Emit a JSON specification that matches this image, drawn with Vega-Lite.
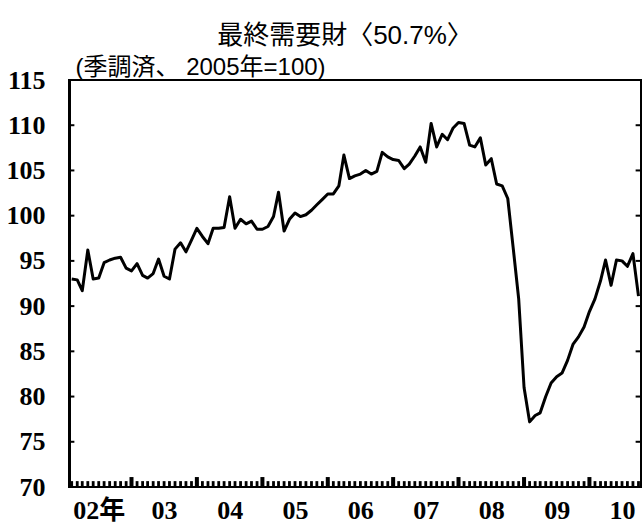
{
  "$schema": "https://vega.github.io/schema/vega-lite/v6.json",
  "width": 572,
  "height": 407,
  "autosize": {"type": "none"},
  "padding": {"left": 69, "top": 80, "right": 2, "bottom": 43},
  "background": "white",
  "config": {
    "view": {"stroke": "black", "strokeWidth": 2},
    "axis": {
      "grid": false,
      "labelFont": "Liberation Serif, Noto Sans CJK JP",
      "labelFontSize": 26,
      "labelFontWeight": "bold",
      "labelColor": "black",
      "tickColor": "black",
      "domainColor": "black"
    }
  },
  "title": {
    "text": "最終需要財〈50.7%〉",
    "font": "Liberation Sans, Noto Sans CJK JP",
    "fontSize": 26,
    "fontWeight": "normal",
    "color": "black",
    "anchor": "middle",
    "frame": "group",
    "baseline": "alphabetic",
    "dx": -10,
    "offset": -15
  },
  "datasets": {
    "series": [
      {"month": "2002-01-01", "value": 93.0},
      {"month": "2002-02-01", "value": 92.9},
      {"month": "2002-03-01", "value": 91.7},
      {"month": "2002-04-01", "value": 96.2},
      {"month": "2002-05-01", "value": 93.0},
      {"month": "2002-06-01", "value": 93.1},
      {"month": "2002-07-01", "value": 94.8},
      {"month": "2002-08-01", "value": 95.1},
      {"month": "2002-09-01", "value": 95.3},
      {"month": "2002-10-01", "value": 95.4},
      {"month": "2002-11-01", "value": 94.2},
      {"month": "2002-12-01", "value": 93.9},
      {"month": "2003-01-01", "value": 94.7},
      {"month": "2003-02-01", "value": 93.4},
      {"month": "2003-03-01", "value": 93.1},
      {"month": "2003-04-01", "value": 93.6},
      {"month": "2003-05-01", "value": 95.2},
      {"month": "2003-06-01", "value": 93.3},
      {"month": "2003-07-01", "value": 93.0},
      {"month": "2003-08-01", "value": 96.3},
      {"month": "2003-09-01", "value": 97.0},
      {"month": "2003-10-01", "value": 96.0},
      {"month": "2003-11-01", "value": 97.3},
      {"month": "2003-12-01", "value": 98.6},
      {"month": "2004-01-01", "value": 97.7},
      {"month": "2004-02-01", "value": 96.9},
      {"month": "2004-03-01", "value": 98.6},
      {"month": "2004-04-01", "value": 98.6},
      {"month": "2004-05-01", "value": 98.7},
      {"month": "2004-06-01", "value": 102.1},
      {"month": "2004-07-01", "value": 98.6},
      {"month": "2004-08-01", "value": 99.6},
      {"month": "2004-09-01", "value": 99.1},
      {"month": "2004-10-01", "value": 99.4},
      {"month": "2004-11-01", "value": 98.5},
      {"month": "2004-12-01", "value": 98.5},
      {"month": "2005-01-01", "value": 98.8},
      {"month": "2005-02-01", "value": 99.9},
      {"month": "2005-03-01", "value": 102.6},
      {"month": "2005-04-01", "value": 98.3},
      {"month": "2005-05-01", "value": 99.6},
      {"month": "2005-06-01", "value": 100.3},
      {"month": "2005-07-01", "value": 99.9},
      {"month": "2005-08-01", "value": 100.1},
      {"month": "2005-09-01", "value": 100.6},
      {"month": "2005-10-01", "value": 101.2},
      {"month": "2005-11-01", "value": 101.8},
      {"month": "2005-12-01", "value": 102.4},
      {"month": "2006-01-01", "value": 102.4},
      {"month": "2006-02-01", "value": 103.3},
      {"month": "2006-03-01", "value": 106.7},
      {"month": "2006-04-01", "value": 104.1},
      {"month": "2006-05-01", "value": 104.4},
      {"month": "2006-06-01", "value": 104.6},
      {"month": "2006-07-01", "value": 105.0},
      {"month": "2006-08-01", "value": 104.6},
      {"month": "2006-09-01", "value": 104.9},
      {"month": "2006-10-01", "value": 107.0},
      {"month": "2006-11-01", "value": 106.5},
      {"month": "2006-12-01", "value": 106.2},
      {"month": "2007-01-01", "value": 106.1},
      {"month": "2007-02-01", "value": 105.2},
      {"month": "2007-03-01", "value": 105.7},
      {"month": "2007-04-01", "value": 106.6},
      {"month": "2007-05-01", "value": 107.6},
      {"month": "2007-06-01", "value": 105.9},
      {"month": "2007-07-01", "value": 110.2},
      {"month": "2007-08-01", "value": 107.6},
      {"month": "2007-09-01", "value": 109.0},
      {"month": "2007-10-01", "value": 108.4},
      {"month": "2007-11-01", "value": 109.7},
      {"month": "2007-12-01", "value": 110.3},
      {"month": "2008-01-01", "value": 110.2},
      {"month": "2008-02-01", "value": 107.8},
      {"month": "2008-03-01", "value": 107.6},
      {"month": "2008-04-01", "value": 108.6},
      {"month": "2008-05-01", "value": 105.6},
      {"month": "2008-06-01", "value": 106.3},
      {"month": "2008-07-01", "value": 103.5},
      {"month": "2008-08-01", "value": 103.3},
      {"month": "2008-09-01", "value": 101.9},
      {"month": "2008-10-01", "value": 96.5},
      {"month": "2008-11-01", "value": 90.8},
      {"month": "2008-12-01", "value": 81.0},
      {"month": "2009-01-01", "value": 77.2},
      {"month": "2009-02-01", "value": 77.9},
      {"month": "2009-03-01", "value": 78.2},
      {"month": "2009-04-01", "value": 80.0},
      {"month": "2009-05-01", "value": 81.5},
      {"month": "2009-06-01", "value": 82.2},
      {"month": "2009-07-01", "value": 82.6},
      {"month": "2009-08-01", "value": 84.0},
      {"month": "2009-09-01", "value": 85.8},
      {"month": "2009-10-01", "value": 86.6},
      {"month": "2009-11-01", "value": 87.7},
      {"month": "2009-12-01", "value": 89.4},
      {"month": "2010-01-01", "value": 90.8},
      {"month": "2010-02-01", "value": 92.8},
      {"month": "2010-03-01", "value": 95.1},
      {"month": "2010-04-01", "value": 92.3},
      {"month": "2010-05-01", "value": 95.1},
      {"month": "2010-06-01", "value": 95.0},
      {"month": "2010-07-01", "value": 94.4},
      {"month": "2010-08-01", "value": 95.8},
      {"month": "2010-09-01", "value": 91.1}
    ],
    "levels": [
      {"level": 75}, {"level": 80}, {"level": 85}, {"level": 90},
      {"level": 95}, {"level": 100}, {"level": 105}, {"level": 110}
    ]
  },
  "layer": [
    {
      "data": {"name": "series"},
      "mark": {"type": "rule", "color": "black", "strokeWidth": 2.8},
      "encoding": {
        "x": {
          "field": "month",
          "type": "temporal",
          "scale": {
            "type": "utc",
            "domain": [
              {"year": 2001, "month": 12, "date": 17, "utc": true},
              {"year": 2010, "month": 9, "date": 15, "utc": true}
            ]
          },
          "axis": {
            "orient": "bottom",
            "title": null,
            "ticks": false,
            "domain": false,
            "labelPadding": 10,
            "labelOverlap": false,
            "values": [
              {"year": 2002, "month": 6, "date": 1, "utc": true},
              {"year": 2003, "month": 6, "date": 1, "utc": true},
              {"year": 2004, "month": 6, "date": 1, "utc": true},
              {"year": 2005, "month": 6, "date": 1, "utc": true},
              {"year": 2006, "month": 6, "date": 1, "utc": true},
              {"year": 2007, "month": 6, "date": 1, "utc": true},
              {"year": 2008, "month": 6, "date": 1, "utc": true},
              {"year": 2009, "month": 6, "date": 1, "utc": true},
              {"year": 2010, "month": 6, "date": 1, "utc": true}
            ],
            "labelExpr": "utcFormat(datum.value, '%y') + (utcyear(datum.value) == 2002 ? '年' : '')"
          }
        },
        "y": {
          "datum": 70,
          "type": "quantitative",
          "scale": {"domain": [70, 115], "nice": false, "zero": false},
          "axis": {
            "orient": "left",
            "values": [70, 75, 80, 85, 90, 95, 100, 105, 110, 115],
            "ticks": false,
            "labelPadding": 24,
            "domainWidth": 3,
            "title": "(季調済、 2005年=100)",
            "titleAngle": 0,
            "titleX": 6,
            "titleY": -6,
            "titleAlign": "left",
            "titleBaseline": "alphabetic",
            "titleFont": "Liberation Sans, Noto Sans CJK JP",
            "titleFontSize": 24,
            "titleFontWeight": "normal",
            "titleColor": "black"
          }
        },
        "y2": {"datum": 70.65}
      }
    },
    {
      "data": {"name": "series"},
      "transform": [{"filter": "utcmonth(toDate(datum.month)) == 11"}],
      "mark": {"type": "rule", "color": "black", "strokeWidth": 4},
      "encoding": {
        "x": {"field": "month", "type": "temporal"},
        "y": {"datum": 70, "type": "quantitative"},
        "y2": {"datum": 71.1}
      }
    },
    {
      "data": {"name": "levels"},
      "mark": {"type": "rule", "color": "black", "strokeWidth": 2},
      "encoding": {
        "y": {"field": "level", "type": "quantitative"},
        "x": {"datum": {"year": 2001, "month": 12, "date": 17, "utc": true}, "type": "temporal"},
        "x2": {"datum": {"year": 2002, "month": 1, "date": 16, "utc": true}}
      }
    },
    {
      "data": {"name": "levels"},
      "mark": {"type": "rule", "color": "black", "strokeWidth": 2},
      "encoding": {
        "y": {"field": "level", "type": "quantitative"},
        "x": {"datum": {"year": 2010, "month": 8, "date": 16, "utc": true}, "type": "temporal"},
        "x2": {"datum": {"year": 2010, "month": 9, "date": 15, "utc": true}}
      }
    },
    {
      "data": {"name": "series"},
      "mark": {"type": "line", "color": "black", "strokeWidth": 3, "strokeJoin": "round"},
      "encoding": {
        "x": {"field": "month", "type": "temporal"},
        "y": {"field": "value", "type": "quantitative"}
      }
    }
  ]
}
